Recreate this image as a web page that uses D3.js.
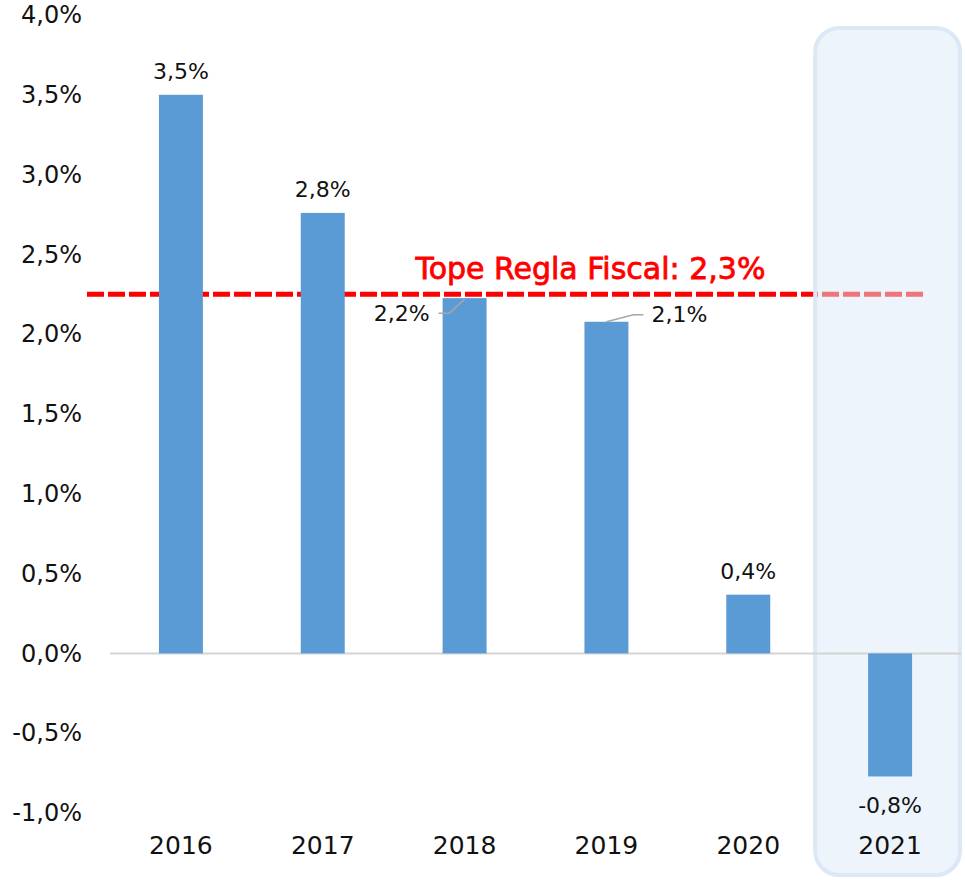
<!DOCTYPE html>
<html>
<head>
<meta charset="utf-8">
<script src="https://cdn.jsdelivr.net/npm/d3@7"></script>
<style>
  html, body { margin: 0; padding: 0; background: #ffffff; }
  svg { display: block; }
  text { font-family: "DejaVu Sans", sans-serif; fill: #111111; }
</style>
</head>
<body>
<svg id="chart" width="965" height="881"></svg>
<script>
// Fiscal balance by year (% of GDP)
const years = ["2016", "2017", "2018", "2019", "2020", "2021"];
const values = [3.5, 2.76, 2.226, 2.078, 0.368, -0.771];
const yTicks = [-1.0, -0.5, 0.0, 0.5, 1.0, 1.5, 2.0, 2.5, 3.0, 3.5, 4.0];
const fiscalCap = 2.25;
const capLabel = "Tope Regla Fiscal";
const highlightYear = "2021";
// where each value label sits relative to its bar
const labelPlacement = ["top", "top", "left", "right", "top", "bottom"];

const locale = d3.formatLocale({ decimal: ",", thousands: ".", grouping: [3], currency: ["$", ""], minus: "-" });
const fmt = v => locale.format(".1f")(v) + "%";

const svg = d3.select("#chart");
const W = 965, H = 881;
const margin = { left: 110, right: 4, top: 15, bottom: 68 };

const x = d3.scaleBand().domain(years).range([margin.left, W - margin.right]).paddingInner(0.69).paddingOuter(0.345);
const y = d3.scaleLinear().domain([-1, 4]).range([H - margin.bottom, margin.top]);

const step = x.step();
const bw = x.bandwidth();

// fiscal rule cap line (drawn first so the highlight panel tints it)
svg.append("line")
  .attr("x1", margin.left - 23).attr("x2", x(highlightYear) + bw + 12)
  .attr("y1", y(fiscalCap)).attr("y2", y(fiscalCap))
  .attr("stroke", "#ff0000").attr("stroke-width", 5)
  .attr("stroke-dasharray", "17 4");

// highlight panel for the latest year
const hx = x(highlightYear) - (step - bw) / 2;
svg.append("rect")
  .attr("x", hx - 4).attr("y", 28)
  .attr("width", step + 3).attr("height", 847)
  .attr("rx", 24).attr("ry", 24)
  .attr("fill", "rgba(219,233,247,0.5)")
  .attr("stroke", "#dce8f5").attr("stroke-width", 4);

svg.append("text")
  .attr("x", x("2019") + bw / 2 - 16).attr("y", y(fiscalCap) - 15)
  .attr("text-anchor", "middle")
  .style("fill", "#ff0000").style("font-size", "30px").style("font-weight", "normal")
  .style("stroke", "#ff0000").style("stroke-width", "0.8px")
  .text(capLabel + ": " + fmt(fiscalCap));

// y axis labels
const yAxis = d3.axisLeft(y).tickValues(yTicks).tickSize(0).tickPadding(0).tickFormat(fmt);
const gy = svg.append("g").attr("transform", `translate(${margin.left - 28},0)`).call(yAxis);
gy.select(".domain").remove();
gy.selectAll("text").style("font-size", "24px").style("font-family", "'DejaVu Sans', sans-serif").attr("fill", "#111");

// zero line
svg.append("line")
  .attr("x1", margin.left).attr("x2", W - margin.right)
  .attr("y1", y(0)).attr("y2", y(0))
  .attr("stroke", "#d4d4d4").attr("stroke-width", 2);

// bars
const data = years.map((yr, i) => ({ yr, v: values[i], pos: labelPlacement[i] }));
svg.append("g").selectAll("rect").data(data).join("rect")
  .attr("x", d => x(d.yr))
  .attr("width", bw)
  .attr("y", d => y(Math.max(0, d.v)))
  .attr("height", d => Math.abs(y(d.v) - y(0)))
  .attr("fill", "#5b9bd5");

// value labels
const lg = svg.append("g").style("font-size", "22px");
data.forEach(d => {
  const cx = x(d.yr) + bw / 2;
  const top = y(d.v);
  if (d.pos === "top") {
    lg.append("text").attr("x", cx).attr("y", top - 16).attr("text-anchor", "middle").text(fmt(d.v));
  } else if (d.pos === "bottom") {
    lg.append("text").attr("x", cx).attr("y", top + 37).attr("text-anchor", "middle").text(fmt(d.v));
  } else if (d.pos === "left") {
    const lx = x(d.yr) - 13, ly = top + 15;
    lg.append("text").attr("x", lx).attr("y", ly).attr("dy", "0.35em").attr("text-anchor", "end").text(fmt(d.v));
    svg.append("path")
      .attr("d", d3.line()([[lx + 9, ly], [lx + 20, ly], [cx, top + 1]]))
      .attr("fill", "none").attr("stroke", "#a6a6a6").attr("stroke-width", 1.5);
  } else {
    const lx = x(d.yr) + bw + 23, ly = top - 7;
    lg.append("text").attr("x", lx).attr("y", ly).attr("dy", "0.35em").attr("text-anchor", "start").text(fmt(d.v));
    svg.append("path")
      .attr("d", d3.line()([[cx, top], [lx - 18, ly], [lx - 8, ly]]))
      .attr("fill", "none").attr("stroke", "#a6a6a6").attr("stroke-width", 1.5);
  }
});

// x axis labels
const xAxis = d3.axisBottom(x).tickSize(0).tickPadding(0);
const gx = svg.append("g").attr("transform", `translate(0,${y(-1) + 23})`).call(xAxis);
gx.select(".domain").remove();
gx.selectAll("text").style("font-size", "25px").style("font-family", "'DejaVu Sans', sans-serif").attr("fill", "#111");
</script>
</body>
</html>
